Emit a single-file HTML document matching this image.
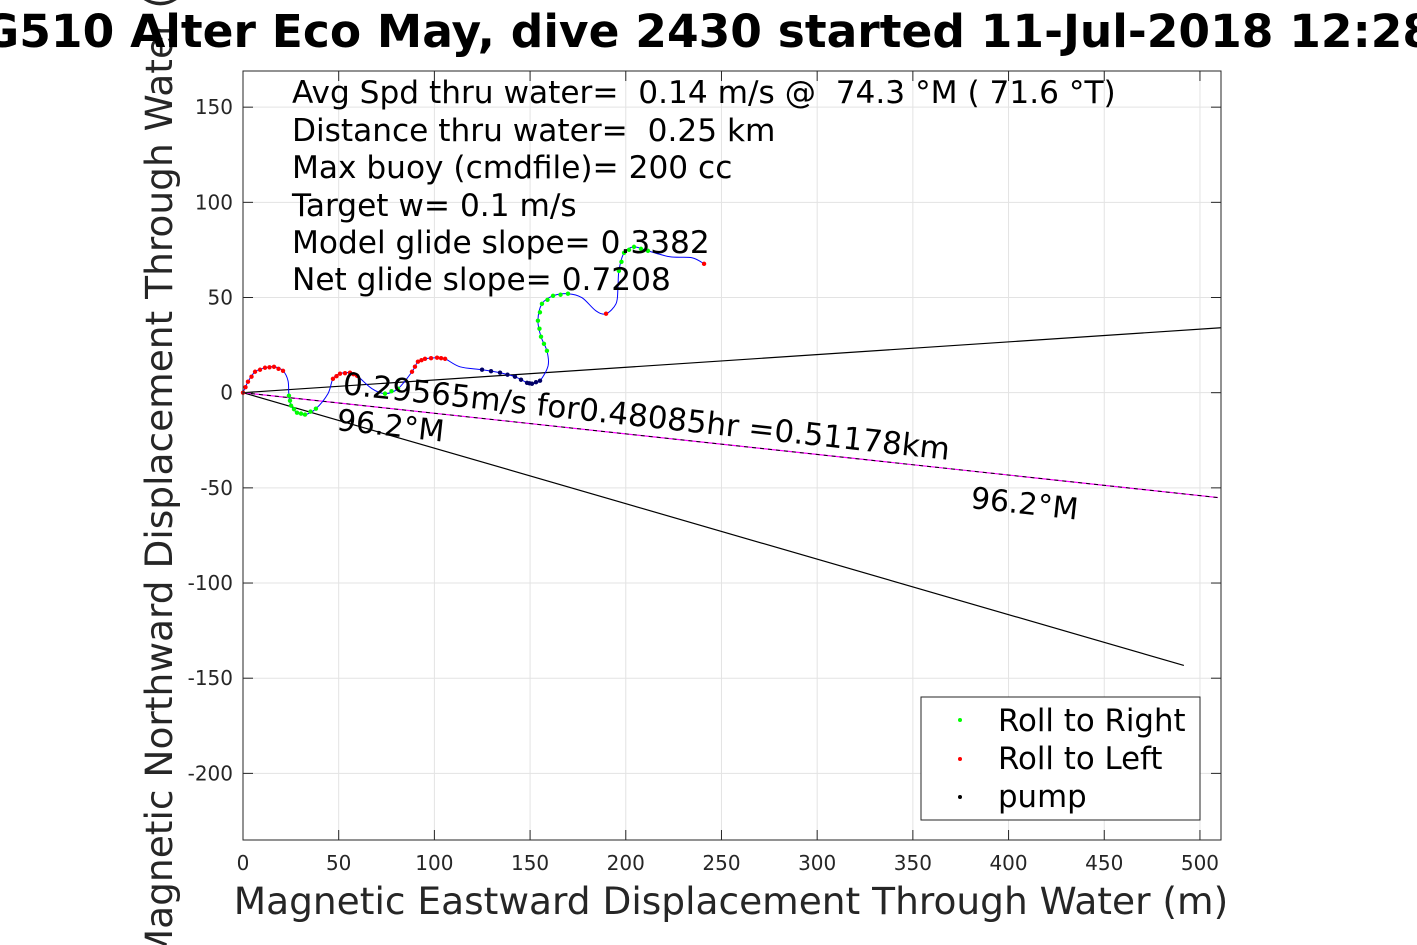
<!DOCTYPE html>
<html><head><meta charset="utf-8"><style>
html,body{margin:0;padding:0;background:#fff;width:1417px;height:945px;overflow:hidden}
svg{display:block;font-family:"DejaVu Sans","Liberation Sans",sans-serif}
text{white-space:pre}
</style></head><body>
<svg id="chart" width="1417" height="945" viewBox="0 0 1417 945">
<g id="grid"></g>
<g id="marks"></g>
<rect x="243" y="71" width="978" height="769" fill="none" stroke="#262626" stroke-width="1"/>
<g id="ticks"></g>
<text transform="translate(172,452) rotate(-90)" text-anchor="middle" font-size="37.5" fill="#262626">Magnetic Northward Displacement Through Water (m)</text>
<text x="708" y="47" text-anchor="middle" font-size="45.5" font-weight="bold" fill="#000">G510 Alter Eco May, dive 2430 started 11-Jul-2018 12:28</text>
<g font-size="31.2" fill="#000">
<text x="292" y="103">Avg Spd thru water=  0.14 m/s @  74.3 °M ( 71.6 °T)</text>
<text x="292" y="141">Distance thru water=  0.25 km</text>
<text x="292" y="178">Max buoy (cmdfile)= 200 cc</text>
<text x="292" y="216">Target w= 0.1 m/s</text>
<text x="292" y="253">Model glide slope= 0.3382</text>
<text x="292" y="290">Net glide slope= 0.7208</text>
</g>
<text transform="translate(342,394) rotate(6.2)" font-size="31" fill="#000">0.29565m/s for0.48085hr =0.51178km</text>
<text transform="translate(336,430) rotate(6.2)" font-size="30" fill="#000">96.2°M</text>
<text transform="translate(970,508) rotate(6.2)" font-size="30" fill="#000">96.2°M</text>
<text x="731" y="914" text-anchor="middle" font-size="37.5" fill="#262626">Magnetic Eastward Displacement Through Water (m)</text>
<g>
<rect x="921" y="697" width="279" height="123" fill="#fff" stroke="#262626"/>
<circle cx="960" cy="720" r="2" fill="#00ff00"/>
<text x="998" y="731" font-size="30.8">Roll to Right</text>
<circle cx="960" cy="759" r="2" fill="#ff0000"/>
<text x="998" y="769" font-size="30.8">Roll to Left</text>
<circle cx="960" cy="797" r="2" fill="#000"/>
<text x="998" y="807" font-size="30.8">pump</text>
</g>
</svg>
<script>
const xTicks=[0,50,100,150,200,250,300,350,400,450,500];
const yTicks=[-200,-150,-100,-50,0,50,100,150];
const trackX=[0,2.6,6.3,11.5,16.2,20.9,23.5,24.0,25.1,28.2,32.4,38.1,44.4,47.0,50.7,55.9,59.6,67.4,74.2,81.0,88.3,91.4,95.1,101.4,105.6,113.4,124.9,134.3,142.1,148.4,151.0,155.2,159.4,158.8,155.7,154.1,156.2,162.0,169.8,177.1,184.4,189.7,194.9,195.9,196.4,199.1,204.3,211.6,223.1,234.6,240.9];
const trackY=[0,5.8,11.0,13.1,13.6,11.5,6.3,-1.6,-6.8,-10.5,-11.5,-8.4,-0.5,7.3,10.0,10.5,8.9,2.1,-0.5,2.1,11.0,16.3,17.8,18.4,17.8,13.6,12.1,10.5,8.4,5.2,4.7,6.3,14.2,22.0,29.4,37.8,46.7,50.9,52.0,49.9,43.0,41.5,46.7,54.6,64.0,73.5,76.6,74.5,71.4,70.9,67.7];
const redIdx=[0,1,2,3,4,5,13,14,15,16,20,21,22,23,24,41,50];
const greenIdx=[7,8,9,10,11,18,19,33,34,35,36,37,38,44,45,46,47];
const pumpIdx=[26,27,28,29,30,31];
const lineEnds=[{x:511,y:34.1,c:'#000'},{x:491.6,y:-143.3,c:'#000'},{x:509.4,y:-55.1,c:'#ff00ff'}];
const X0=243,X1=1221,XMIN=0,XMAX=511;
const Y0=840,Y1=71,YMIN=-235,YMAX=169;
const sx=v=>X0+(v-XMIN)/(XMAX-XMIN)*(X1-X0);
const sy=v=>Y0-(v-YMIN)/(YMAX-YMIN)*(Y0-Y1);
const NS='http://www.w3.org/2000/svg';
function mk(t,a,p){const e=document.createElementNS(NS,t);for(const k in a)e.setAttribute(k,a[k]);p.appendChild(e);return e;}
const grid=document.getElementById('grid'),ticks=document.getElementById('ticks'),marks=document.getElementById('marks');
xTicks.forEach(v=>{
 const l=mk('line',{x1:sx(v),x2:sx(v),y1:Y1,y2:Y0,stroke:'#e3e3e3'},grid);
 
 
 const t1=mk('line',{x1:sx(v),x2:sx(v),y1:Y0,y2:Y0-10,stroke:'#262626'},ticks);
 
 
 const t2=mk('line',{x1:sx(v),x2:sx(v),y1:Y1,y2:Y1+10,stroke:'#262626'},ticks);
 
 
 const tx=mk('text',{x:sx(v),y:870,'text-anchor':'middle','font-size':20,fill:'#262626'},ticks);
 tx.textContent=v;
 
 
});
yTicks.forEach(v=>{
 const l=mk('line',{x1:X0,x2:X1,y1:sy(v),y2:sy(v),stroke:'#e3e3e3'},grid);
 
 
 const t1=mk('line',{x1:X0,x2:X0+10,y1:sy(v),y2:sy(v),stroke:'#262626'},ticks);
 
 
 const t2=mk('line',{x1:X1,x2:X1-10,y1:sy(v),y2:sy(v),stroke:'#262626'},ticks);
 
 
 const tx=mk('text',{x:233,y:sy(v)+7,'text-anchor':'end','font-size':20,fill:'#262626'},ticks);
 tx.textContent=v;
 
 
});
lineEnds.forEach(e=>{
 const l=mk('line',{x1:sx(0),y1:sy(0),x2:sx(e.x),y2:sy(e.y),stroke:e.c,'stroke-width':1.2},marks);
 
 
});
const dl=mk('line',{x1:sx(0),y1:sy(0),x2:sx(509.4),y2:sy(-55.1),stroke:'#000','stroke-width':1,'stroke-dasharray':'4 4'},marks);


const P=trackX.map((x,i)=>[sx(x),sy(trackY[i])]);
let d='M'+P[0][0].toFixed(1)+','+P[0][1].toFixed(1);
for(let i=0;i<P.length-1;i++){
 const p0=P[Math.max(0,i-1)],p1=P[i],p2=P[i+1],p3=P[Math.min(P.length-1,i+2)];
 const c1=[p1[0]+(p2[0]-p0[0])/6,p1[1]+(p2[1]-p0[1])/6],c2=[p2[0]-(p3[0]-p1[0])/6,p2[1]-(p3[1]-p1[1])/6];
 d+='C'+c1[0].toFixed(1)+','+c1[1].toFixed(1)+' '+c2[0].toFixed(1)+','+c2[1].toFixed(1)+' '+p2[0].toFixed(1)+','+p2[1].toFixed(1);
}
const tr=mk('path',{d:d,fill:'none',stroke:'#0000ff','stroke-width':1},marks);


function dots(idx,col,name){idx.forEach(i=>{
 const c=mk('circle',{cx:sx(trackX[i]),cy:sy(trackY[i]),r:2.2,fill:col},marks);
 
 
 if(i+1<trackX.length&&idx.includes(i+1)){
  const m=mk('circle',{cx:(sx(trackX[i])+sx(trackX[i+1]))/2,cy:(sy(trackY[i])+sy(trackY[i+1]))/2,r:2.2,fill:col},marks);
  
  
 }
});}
dots(redIdx,'#ff0000','roll-left-point');
dots(greenIdx,'#00ff00','roll-right-point');
dots(pumpIdx,'#000066','pump-point');
</script>
</body></html>
